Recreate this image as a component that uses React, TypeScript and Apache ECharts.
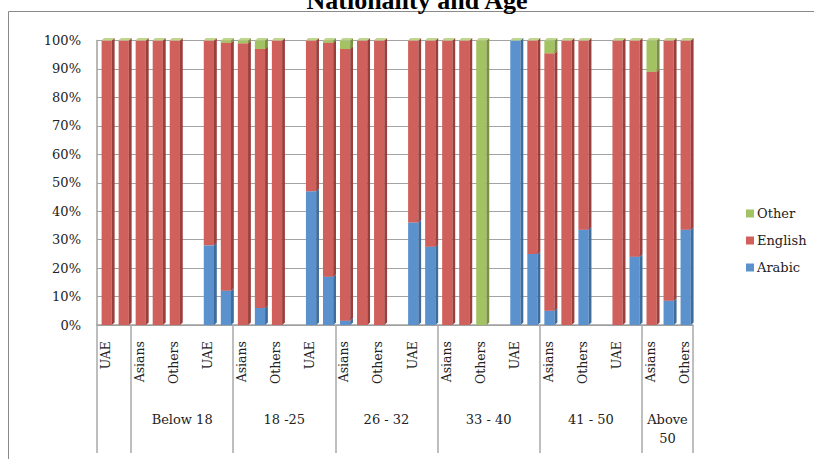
import { useEffect, useRef } from "react";
import * as echarts from "echarts";

// 35 slots on the category axis; every sixth slot is an empty spacer
const slotLabels = [
  "UAE", "", "Asians", "", "Others", "",
  "UAE", "", "Asians", "", "Others", "",
  "UAE", "", "Asians", "", "Others", "",
  "UAE", "", "Asians", "", "Others", "",
  "UAE", "", "Asians", "", "Others", "",
  "UAE", "", "Asians", "", "Others",
];

// Share of respondents (%) per slot; null marks a spacer slot
const arabic = [
  0, 0, 0, 0, 0, null,
  28, 12, 0, 6, 0, null,
  47, 17, 1.5, 0, 0, null,
  36, 27.5, 0, 0, 0, null,
  100, 25, 5, 0, 33.5, null,
  0, 24, 0, 8.5, 33.5,
];
const english = [
  100, 100, 100, 100, 100, null,
  72, 87.2, 99, 91, 100, null,
  53, 82.2, 95.5, 100, 100, null,
  64, 72.5, 100, 100, 0, null,
  0, 75, 90.5, 100, 66.5, null,
  100, 76, 89, 91.5, 66.5,
];
const other = [
  0, 0, 0, 0, 0, null,
  0, 0.8, 1, 3, 0, null,
  0, 0.8, 3, 0, 0, null,
  0, 0, 0, 0, 100, null,
  0, 0, 4.5, 0, 0, null,
  0, 0, 11, 0, 0,
];

// Age bands drawn under the nationality labels
const ageGroups = ["Below 18", "18 -25", "26 - 32", "33 - 40", "41 - 50", "Above\n50"];
const ageGroupCenters = [5, 11, 17, 23, 29, 33.5];
const ageGroupBounds = [0, 2, 8, 14, 20, 26, 32, 35];

const yTicks = [0, 10, 20, 30, 40, 50, 60, 70, 80, 90, 100];

const labelFont = "'DejaVu Serif', 'Liberation Serif', serif";

type Shade = { front: string; side: string; top: string };
const shades: Record<string, Shade> = {
  Arabic: { front: "#5B92CD", side: "#3E6C9C", top: "#86AEDB" },
  English: { front: "#D0605C", side: "#9A3F3B", top: "#DE8985" },
  Other: { front: "#A3C262", side: "#789142", top: "#BFD68E" },
};

function buildSeriesData(values: (number | null)[], bases: (number | null)[][]) {
  const out: number[][] = [];
  values.forEach((v, i) => {
    if (v === null) return;
    let base = 0;
    bases.forEach((b) => {
      base += (b[i] as number) || 0;
    });
    out.push([i, base, v]);
  });
  return out;
}

function makeRender(name: string) {
  const shade = shades[name];
  return (_params: any, api: any) => {
    const i = api.value(0);
    const base = api.value(1);
    const v = api.value(2);
    const bottom = api.coord([i, base]);
    const topP = api.coord([i, base + v]);
    const band = api.size([1, 0])[0];
    const w = band * 0.6;
    const d = band * 0.165;
    const dy = band * 0.15;
    const xl = bottom[0] - band * 0.23;
    const xr = xl + w;
    const yb = bottom[1];
    const yt = topP[1];
    const topFace = {
      type: "polygon",
      shape: { points: [[xl, yt], [xl + d, yt - dy], [xr + d, yt - dy], [xr, yt]] },
      style: { fill: shade.top },
    };
    if (v <= 0) {
      // a zero-height top segment still shows its lid
      return name === "Other"
        ? { type: "group", children: [topFace] }
        : { type: "group", children: [] };
    }
    return {
      type: "group",
      children: [
        {
          type: "rect",
          shape: { x: xl, y: yt, width: w, height: yb - yt },
          style: { fill: shade.front },
        },
        {
          type: "polygon",
          shape: { points: [[xr, yt], [xr + d, yt - dy], [xr + d, yb - dy], [xr, yb]] },
          style: { fill: shade.side },
        },
        topFace,
      ],
    };
  };
}

export default function App() {
  const ref = useRef<HTMLDivElement>(null);

  useEffect(() => {
    if (!ref.current) return;
    const chart = echarts.init(ref.current, undefined, { renderer: "svg" });

    const gridBox = { left: 97, top: 40.5, width: 596, height: 284.5 };

    const series: any[] = [
      { name: "Arabic", values: arabic, bases: [] as (number | null)[][] },
      { name: "English", values: english, bases: [arabic] },
      { name: "Other", values: other, bases: [arabic, english] },
    ].map((s) => ({
      name: s.name,
      type: "custom",
      xAxisIndex: 0,
      yAxisIndex: 0,
      itemStyle: { color: shades[s.name].front },
      renderItem: makeRender(s.name),
      encode: { x: 0, y: [1, 2] },
      data: buildSeriesData(s.values, s.bases),
    }));

    chart.setOption({
      animation: false,
      backgroundColor: "#ffffff",
      title: {
        text: "Nationality and Age",
        left: 412,
        textAlign: "center",
        top: -18,
        textStyle: {
          fontFamily: "'Liberation Serif', 'Times New Roman', serif",
          fontWeight: "bold",
          fontSize: 26,
          color: "#000",
        },
      },
      graphic: [
        {
          type: "rect",
          shape: { x: 8.5, y: 11.5, width: 900, height: 500 },
          style: { fill: "none", stroke: "#8a8a8a", lineWidth: 1 },
          silent: true,
          z: -10,
        },
      ],
      legend: {
        orient: "vertical",
        left: 741,
        top: 202,
        icon: "rect",
        itemWidth: 8,
        itemHeight: 8,
        itemGap: 14,
        data: ["Other", "English", "Arabic"],
        textStyle: { fontFamily: labelFont, fontSize: 13, color: "#222", padding: [0, 0, 0, -2] },
      },
      grid: [
        { ...gridBox, outerBoundsMode: "none", containLabel: false },
        { ...gridBox, outerBoundsMode: "none", containLabel: false },
      ],
      xAxis: [
        {
          type: "category",
          gridIndex: 0,
          data: slotLabels,
          boundaryGap: true,
          axisLine: { show: true, lineStyle: { color: "#a0a0a0", width: 1.5 } },
          axisTick: { show: false },
          splitLine: { show: false },
          axisLabel: {
            interval: 0,
            rotate: 90,
            margin: 16,
            fontFamily: labelFont,
            fontSize: 12.5,
            color: "#222",
          },
        },
        {
          type: "value",
          gridIndex: 1,
          min: 0,
          max: 35,
          position: "bottom",
          axisLine: { show: false },
          splitLine: { show: false },
          axisTick: {
            show: true,
            customValues: ageGroupBounds,
            length: 128,
            lineStyle: { color: "#a8a8a8", width: 1.5 },
          },
          axisLabel: {
            customValues: ageGroupCenters,
            formatter: (v: number) => {
              const k = ageGroupCenters.indexOf(v);
              return k >= 0 ? ageGroups[k] : "";
            },
            margin: 85,
            lineHeight: 19,
            fontFamily: labelFont,
            fontSize: 13,
            color: "#222",
          },
        },
      ],
      yAxis: [
        {
          type: "value",
          gridIndex: 0,
          min: yTicks[0],
          max: yTicks[yTicks.length - 1],
          interval: 10,
          axisLine: { show: true, lineStyle: { color: "#a0a0a0", width: 1.5 } },
          axisTick: { show: false },
          splitLine: { show: true, lineStyle: { color: "#a3a3a3", width: 1.2 } },
          axisLabel: {
            formatter: "{value}%",
            margin: 16,
            padding: [6, 0, 0, 0],
            fontFamily: labelFont,
            fontSize: 13,
            color: "#222",
          },
        },
        { type: "value", gridIndex: 1, show: false, min: 0, max: 100 },
      ],
      series,
    });

    return () => chart.dispose();
  }, []);

  return (
    <div
      ref={ref}
      style={{ position: "fixed", left: 0, top: 0, width: 814, height: 459 }}
    />
  );
}
